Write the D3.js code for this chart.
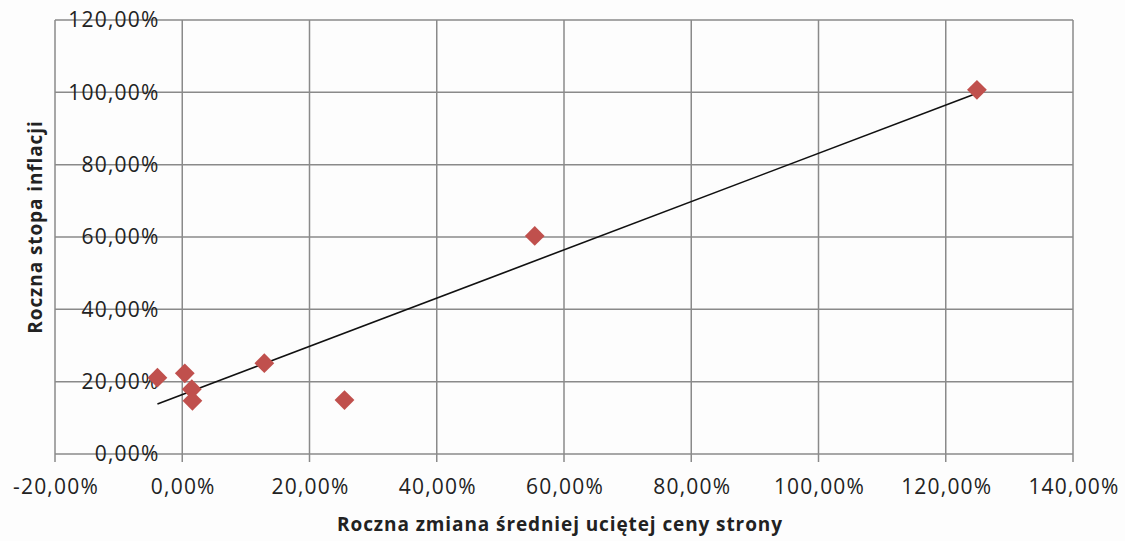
<!DOCTYPE html>
<html>
<head>
<meta charset="utf-8">
<script src="https://cdn.jsdelivr.net/npm/d3@7"></script>
<style>
  body { margin: 0; background: #fdfdfd; }
  text { font-family: 'Open Sans', sans-serif; fill: #222; }
</style>
</head>
<body>
<svg id="chart" width="1125" height="541"></svg>
<script>
// roczna zmiana ceny strony (x) vs roczna stopa inflacji (y), w procentach
const priceChange = [-3.9, 0.4, 1.5, 1.6, 12.9, 25.5, 55.4, 124.9];
const inflation = [21.1, 22.3, 17.9, 14.7, 25.1, 14.9, 60.3, 100.7];
const xTicks = [-20, 0, 20, 40, 60, 80, 100, 120, 140];
const yTicks = [0, 20, 40, 60, 80, 100, 120];

const X_TITLE = 'Roczna zmiana średniej uciętej ceny strony';
const Y_TITLE = 'Roczna stopa inflacji';

const GRID = '#8a8a8a';
const MARKER = '#c0504d';

const fmt = v => v.toFixed(2).replace('.', ',') + '%';

function drawChart() {
    const svg = d3.select('#chart');
    const plot = { left: 55, right: 1073, top: 20, bottom: 454 };

    const x = d3.scaleLinear().domain([-20, 140]).range([plot.left, plot.right]);
    const y = d3.scaleLinear().domain([0, 120]).range([plot.bottom, plot.top]);

    // --- grid
    const grid = svg.append('g').attr('stroke', GRID).attr('stroke-width', 1.5);
    grid.selectAll('line.h')
        .data(yTicks)
        .enter()
        .append('line')
        .attr('x1', plot.left)
        .attr('x2', plot.right)
        .attr('y1', d => y(d))
        .attr('y2', d => y(d));

    grid.selectAll('line.v')
        .data(xTicks)
        .enter()
        .append('line')
        .attr('x1', d => x(d))
        .attr('x2', d => x(d))
        .attr('y1', plot.top)
        .attr('y2', plot.bottom + 8);

    // --- tick labels
    svg.append('g').selectAll('text')
        .data(xTicks)
        .enter()
        .append('text')
        .attr('x', d => x(d) + 1)
        .attr('y', 494)
        .attr('text-anchor', 'middle')
        .attr('font-size', 21)
        .attr('letter-spacing', 1.2)
        .text(fmt);

    svg.append('g').selectAll('text')
        .data(yTicks)
        .enter()
        .append('text')
        .attr('x', 159.5)
        .attr('y', d => y(d))
        .attr('dy', '0.35em')
        .attr('text-anchor', 'end')
        .attr('font-size', 21)
        .attr('letter-spacing', 1.2)
        .text(fmt);

    // --- trendline (least squares)
    const mx = d3.mean(priceChange);
    const my = d3.mean(inflation);
    const slope = d3.sum(priceChange, (v, i) => (v - mx) * (inflation[i] - my)) /
        d3.sum(priceChange, v => (v - mx) * (v - mx));
    const icpt = my - slope * mx;
    const ext = d3.extent(priceChange);

    const lineFn = d3.line()
        .x(d => x(d))
        .y(d => y(icpt + slope * d));

    svg.append('path')
        .datum(ext)
        .attr('fill', 'none')
        .attr('stroke', '#111')
        .attr('stroke-width', 1.6)
        .attr('d', lineFn);

    // --- points
    const diamond = d3.symbol().type(d3.symbolSquare).size(196);
    svg.append('g').selectAll('path')
        .data(priceChange)
        .enter()
        .append('path')
        .attr('fill', MARKER)
        .attr('transform', (d, i) => `translate(${x(d)}, ${y(inflation[i])}) rotate(45)`)
        .attr('d', diamond);

    // --- axis titles
    svg.append('text')
        .attr('x', 560)
        .attr('y', 531)
        .attr('text-anchor', 'middle')
        .attr('font-size', 19)
        .attr('font-weight', 'bold')
        .attr('letter-spacing', 0.9)
        .text(X_TITLE);

    svg.append('text')
        .attr('transform', 'translate(42, 227) rotate(-90)')
        .attr('text-anchor', 'middle')
        .attr('font-size', 19)
        .attr('font-weight', 'bold')
        .attr('letter-spacing', 0.9)
        .text(Y_TITLE);
}

drawChart();
</script>
</body>
</html>
